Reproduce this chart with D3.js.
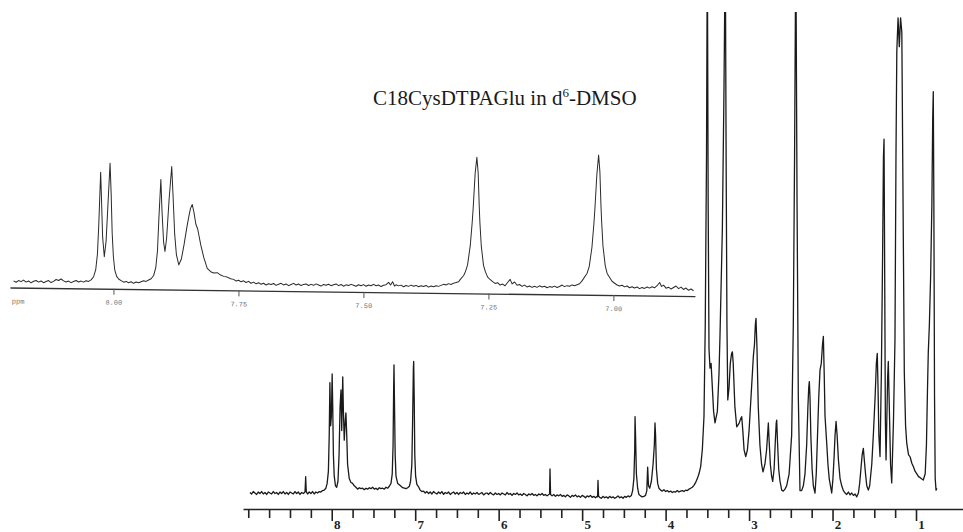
<!DOCTYPE html>
<html><head><meta charset="utf-8">
<script src="https://cdn.jsdelivr.net/npm/d3@7"></script>
<style>body{margin:0;background:#fff}svg{display:block}</style>
</head><body>
<svg id="c" width="963" height="532"></svg>
<script>
// ---------- data ----------
const titleMain = "C18CysDTPAGlu in d";
const titleSup = "6";
const titleTail = "-DMSO";

const mainTicks = [9,8.75,8.5,8.25,8,7.75,7.5,7.25,7,6.75,6.5,6.25,6,5.75,5.5,5.25,5,4.75,4.5,4.25,4,3.75,3.5,3.25,3,2.75,2.5,2.25,2,1.75,1.5,1.25,1];
const mainTickLabels = {8:"8",7:"7",6:"6",5:"5",4:"4",3:"3",2:"2",1:"1"};

const insetTicks = [8.00,7.75,7.50,7.25,7.00];
const insetTickLabels = ["8.00","7.75","7.50","7.25","7.00"];
const insetUnit = "ppm";

// [ppm, intensity] (arbitrary units, >100 = off scale)
const mainSpectrum = [
[8.98,0.1],[8.96,-0.2],[8.94,0.3],[8.92,0],[8.90,-0.3],[8.88,0.2],[8.86,-0.1],[8.84,0.3],[8.82,-0.2],[8.80,0.1],
[8.78,-0.3],[8.76,0.2],[8.74,0],[8.72,-0.2],[8.70,0.3],[8.68,-0.1],[8.66,0.1],[8.64,-0.3],[8.62,0.2],[8.60,-0.1],
[8.58,0.3],[8.56,-0.2],[8.54,0.1],[8.52,-0.3],[8.50,0.2],[8.48,0],[8.46,-0.2],[8.44,0.3],[8.42,-0.1],[8.40,0.2],
[8.38,-0.3],[8.36,0.1],[8.34,-0.1],[8.32,0.2],[8.312,3.4],[8.305,0.3],[8.29,-0.2],[8.27,0.2],[8.25,-0.1],[8.23,0.3],
[8.21,-0.2],[8.19,0.2],[8.17,0],[8.15,0.3],[8.13,0.2],[8.11,0.5],[8.09,0.6],[8.07,1.0],[8.055,2.0],[8.04,4.5],
[8.03,12],[8.022,23],[8.013,14],[8.004,16],[7.995,24.8],[7.988,18],[7.98,8],[7.97,3.5],[7.955,1.5],[7.94,1.2],
[7.925,2.5],[7.912,8],[7.90,18],[7.889,21.5],[7.88,13],[7.868,24.2],[7.86,17],[7.85,11],[7.838,15],[7.83,16.7],
[7.82,12],[7.81,6],[7.79,3],[7.77,2.2],[7.75,2],[7.73,1.5],[7.71,1.2],[7.69,0.8],[7.67,1.1],[7.65,0.9],
[7.63,1.0],[7.61,0.7],[7.59,1.0],[7.57,0.8],[7.55,1.1],[7.53,0.9],[7.51,1.2],[7.49,0.8],[7.47,1.0],[7.45,0.7],
[7.43,1.1],[7.41,0.9],[7.39,1.0],[7.37,0.8],[7.35,1.2],[7.33,1.0],[7.31,1.4],[7.29,2.0],[7.275,4],[7.265,10],
[7.258,22],[7.254,26.7],[7.249,20],[7.24,8],[7.23,3.5],[7.21,2],[7.19,1.7],[7.17,1.4],[7.15,1.1],[7.13,1.0],
[7.11,0.9],[7.09,1.1],[7.07,1.4],[7.055,2.5],[7.04,6],[7.03,16],[7.022,26],[7.018,27.4],[7.012,20],[7.005,8],
[6.995,3.5],[6.98,1.8],[6.96,1.3],[6.94,0.6],[6.92,0.3],
[6.90,0.4],[6.88,0.0],[6.86,0.3],[6.84,-0.1],[6.82,0.2],[6.80,-0.2],[6.78,0.3],[6.76,0.0],[6.74,-0.2],[6.72,0.2],
[6.70,-0.1],[6.68,0.3],[6.66,-0.3],[6.64,0.1],[6.62,-0.1],[6.60,0.2],[6.58,-0.3],[6.56,0.0],[6.54,0.2],[6.52,-0.2],
[6.50,0.1],[6.48,-0.3],[6.46,0.1],[6.44,-0.1],[6.42,0.2],[6.40,-0.3],[6.38,0.0],[6.36,-0.2],[6.34,0.2],[6.32,-0.3],
[6.30,0.0],[6.28,-0.2],[6.26,0.1],[6.24,-0.3],[6.22,-0.1],[6.20,0.1],[6.18,-0.4],[6.16,-0.1],[6.14,0.0],[6.12,-0.3],
[6.10,0.1],[6.08,-0.2],[6.06,-0.4],[6.04,0.0],[6.02,-0.3],[6.00,-0.1],[5.98,-0.4],[5.96,0.0],[5.94,-0.2],[5.92,-0.4],
[5.90,0.1],[5.88,-0.3],[5.86,-0.1],[5.84,-0.5],[5.82,-0.1],[5.80,-0.3],[5.78,0.0],[5.76,-0.4],[5.74,-0.2],[5.72,-0.5],
[5.70,-0.1],[5.68,-0.3],[5.66,-0.6],[5.64,-0.2],[5.62,-0.4],[5.60,-0.1],[5.58,-0.5],[5.56,-0.3],[5.54,-0.6],[5.52,-0.2],
[5.50,-0.4],[5.48,-0.1],[5.46,-0.5],[5.44,-0.3],[5.42,-0.6],[5.40,-0.3],[5.39,-0.2],[5.385,5.0],[5.378,-0.3],[5.36,-0.6],
[5.34,-0.3],[5.32,-0.7],[5.30,-0.4],[5.28,-0.6],[5.26,-0.3],[5.24,-0.7],[5.22,-0.5],[5.20,-0.8],[5.18,-0.4],[5.16,-0.6],
[5.14,-0.9],[5.12,-0.5],[5.10,-0.7],[5.08,-0.4],[5.06,-0.8],[5.04,-0.6],[5.02,-0.9],[5.00,-0.5],[4.98,-0.7],[4.96,-1.0],
[4.94,-0.6],[4.92,-0.8],[4.90,-0.5],[4.88,-0.9],[4.86,-0.7],[4.84,-1.0],[4.82,-0.7],[4.815,-0.8],[4.81,2.6],[4.803,-0.7],
[4.79,-0.9],[4.77,-1.1],[4.75,-0.7],[4.73,-1.0],[4.71,-0.8],[4.69,-1.1],[4.67,-0.7],[4.65,-1.0],[4.63,-0.8],[4.61,-1.1],
[4.59,-0.9],[4.57,-0.6],[4.55,-1.0],[4.53,-0.8],[4.51,-1.1],[4.49,-0.7],[4.47,-0.9],[4.45,-0.6],[4.43,-0.8],[4.41,-0.5],
[4.395,0.5],[4.38,3],[4.37,9],[4.366,15.9],[4.36,12],[4.35,4],[4.335,1],[4.32,-0.3],[4.30,-0.6],[4.28,-0.8],
[4.26,-0.7],[4.24,-0.5],[4.225,0.5],[4.215,5.4],[4.205,1.5],[4.19,1.0],[4.17,2.5],[4.15,6],[4.135,10],[4.127,14.6],
[4.12,12],[4.11,5],[4.095,2],[4.08,1.0],[4.06,0.6],[4.04,0.4],[4.02,0.7],[4.00,0.3],[3.98,0.5],[3.96,0.2],
[3.94,0.4],[3.92,0.1],[3.90,0.3],[3.88,0.2],[3.86,0.5],[3.84,0.2],[3.82,0.4],[3.80,0.5],[3.78,0.3],[3.76,0.6],
[3.74,0.5],[3.72,0.8],[3.70,1.0],[3.68,1.2],[3.66,1.6],[3.64,2.2],[3.62,3.0],[3.60,4.0],[3.58,5.5],[3.56,9],
[3.54,16],[3.525,35],[3.51,70],[3.50,115],[3.49,60],[3.48,30],[3.468,26],[3.455,27],[3.44,22],[3.425,17],
[3.408,14.6],[3.38,17],[3.36,25],[3.348,33],[3.32,55],[3.30,85],[3.285,115],[3.275,70],[3.265,35],[3.255,19.4],
[3.24,22],[3.225,27],[3.21,29],[3.20,29.4],[3.19,27],[3.17,18],[3.148,13.8],[3.12,14.5],[3.10,15.5],[3.088,15.9],
[3.075,13],[3.06,9],[3.04,7.6],[3.02,9],[3.00,13],[2.98,19],[2.96,25],[2.949,28.4],[2.935,31],[2.925,35],
[2.917,36.4],[2.905,30],[2.89,18],[2.87,10],[2.85,6],[2.833,4.4],[2.81,6],[2.79,9],[2.775,13],[2.769,14.6],
[2.76,11],[2.745,6],[2.73,3.5],[2.717,2.4],[2.70,5],[2.685,11],[2.675,14.5],[2.669,15.2],[2.66,11],[2.645,5],
[2.63,2.5],[2.609,0.6],[2.59,0.4],[2.57,0.8],[2.55,1.5],[2.52,4],[2.49,12],[2.47,35],[2.455,70],[2.44,115],
[2.425,60],[2.41,20],[2.39,0.5],[2.37,0.5],[2.35,1.5],[2.33,4],[2.31,10],[2.295,18],[2.285,22],[2.278,23.2],
[2.27,20],[2.26,12],[2.245,5],[2.23,1.5],[2.21,0],[2.195,4],[2.18,12],[2.165,20],[2.15,25.6],[2.135,27],
[2.12,31],[2.11,32.6],[2.10,25],[2.09,16],[2.07,10.4],[2.055,6],[2.04,3],[2.01,0],[1.995,3],[1.98,8],
[1.97,12],[1.958,14.9],[1.945,12],[1.93,7],[1.91,3],[1.89,1.5],[1.87,0.5],[1.85,0],[1.83,-0.3],[1.81,0.2],
[1.79,-0.4],[1.77,0],[1.75,-0.5],[1.73,-0.2],[1.71,-0.8],[1.69,0],[1.675,2],[1.66,5],[1.645,8],[1.631,9.3],
[1.62,7],[1.605,4],[1.59,1.5],[1.571,0.6],[1.555,1.5],[1.53,6],[1.51,12.5],[1.49,20],[1.475,27],[1.464,29.1],
[1.455,22],[1.445,12],[1.431,7.6],[1.415,25],[1.40,50],[1.39,70],[1.383,73.7],[1.375,45],[1.367,15],[1.359,6.9],
[1.35,15],[1.34,24],[1.332,27.4],[1.32,18],[1.305,6],[1.291,2.1],[1.27,15],[1.252,31.9],[1.24,70],[1.23,92],
[1.215,99],[1.20,93],[1.185,99],[1.17,96],[1.155,60],[1.14,25],[1.125,14],[1.111,10.4],[1.09,8],[1.07,7.5],
[1.05,6.2],[1.032,5.5],[1.01,4.5],[0.99,4.0],[0.97,3.4],[0.95,3.2],[0.93,2.9],[0.913,2.7],[0.89,4],[0.875,10],
[0.862,22],[0.853,29.2],[0.84,35],[0.825,45],[0.81,60],[0.80,78],[0.793,83.6],[0.786,60],[0.778,20],[0.77,3],
[0.76,0.6],[0.75,1.0]
];

// [ppm, intensity] read from the expanded aromatic region (inset)
const insetSpectrum = [
[8.200,0.5],[8.195,-0.5],[8.190,0.8],[8.185,0.0],[8.180,1.2],[8.175,-0.3],[8.170,0.6],[8.165,-0.8],[8.160,0.4],[8.155,1.0],
[8.150,-0.2],[8.145,0.7],[8.140,-0.6],[8.135,0.3],[8.130,1.1],[8.125,-0.4],[8.120,0.5],[8.115,2.0],[8.110,1.2],[8.105,2.4],
[8.100,1.0],[8.095,0.2],[8.090,0.9],[8.085,-0.3],[8.080,0.6],[8.075,1.4],[8.070,0.3],[8.065,1.0],[8.060,0.2],[8.055,1.3],
[8.050,0.8],[8.045,2.0],[8.040,4.5],[8.036,10],[8.033,22],[8.031,45],[8.0286,85],[8.026,62],[8.023,35],[8.0192,20],
[8.016,32],[8.013,62],[8.010,92],[8.007,68],[8.004,38],[8.001,20],[7.998,10],[7.994,5],[7.990,3],[7.985,1.8],
[7.980,0.6],[7.975,1.2],[7.970,0.2],[7.965,1.0],[7.960,-0.2],[7.955,0.8],[7.950,0.3],[7.945,1.1],[7.940,1.8],[7.935,1.4],
[7.930,2.5],[7.925,3.5],[7.920,6],[7.916,12],[7.913,25],[7.911,50],[7.908,80],[7.905,56],[7.901,32],[7.898,24.6],
[7.895,35],[7.891,65],[7.8866,90],[7.883,66],[7.879,38],[7.875,22],[7.870,14.4],[7.865,19],[7.860,30],[7.855,43],
[7.851,52],[7.848,58],[7.8446,61],[7.841,55],[7.837,46],[7.833,42],[7.8266,30],[7.820,20],[7.813,12],[7.806,9.5],
[7.800,8.5],[7.793,8.8],[7.786,7],[7.780,6],[7.773,5.5],[7.766,4.2],[7.760,3.8],[7.755,2.5],[7.750,3.2],[7.745,2.0],
[7.740,2.8],[7.735,1.5],[7.730,2.4],[7.725,1.0],[7.720,1.9],[7.715,0.6],[7.710,1.5],[7.705,0.3],[7.700,1.1],[7.695,-0.2],
[7.690,0.8],[7.685,0.2],[7.680,1.0],[7.675,-0.4],[7.670,0.5],[7.665,1.2],[7.660,0.0],[7.655,0.8],[7.650,-0.5],[7.645,0.4],
[7.640,1.3],[7.635,0.1],[7.630,0.9],[7.625,-0.3],[7.620,0.6],[7.615,1.0],[7.610,-0.2],[7.605,0.7],[7.600,0.0],[7.595,1.1],
[7.590,0.3],[7.585,-0.5],[7.580,0.8],[7.575,0.2],[7.570,1.0],[7.565,-0.1],[7.560,0.6],[7.555,1.3],[7.550,0.0],[7.545,0.9],
[7.540,-0.4],[7.535,0.7],[7.530,0.2],[7.525,1.1],[7.520,0.4],[7.515,-0.3],[7.510,0.9],[7.505,0.1],[7.500,1.0],[7.495,-0.2],
[7.490,0.8],[7.485,0.2],[7.480,1.3],[7.475,0.3],[7.470,0.9],[7.465,-0.3],[7.460,0.7],[7.455,1.2],[7.450,3.0],[7.446,1.0],
[7.442,3.5],[7.438,0.2],[7.435,1.2],[7.430,0.4],[7.425,1.0],[7.420,-0.2],[7.415,0.8],[7.410,0.1],[7.405,1.1],[7.400,0.3],
[7.395,0.9],[7.390,-0.1],[7.385,0.7],[7.380,0.2],[7.375,1.0],[7.370,-0.3],[7.365,0.6],[7.360,0.1],[7.355,0.9],[7.350,0.4],
[7.345,1.2],[7.340,2.0],[7.335,1.5],[7.330,2.6],[7.325,2.0],[7.320,3.0],[7.315,3.5],[7.310,4.2],[7.3066,6],[7.300,9],
[7.2966,12],[7.2926,17],[7.2876,32],[7.2843,50],[7.2826,62],[7.2796,88],[7.2766,100],[7.2736,88],[7.2706,62],[7.2689,50],
[7.2656,32],[7.2606,17],[7.2566,12],[7.252,8],[7.2466,6],[7.242,4.5],[7.237,3.2],[7.232,3.8],[7.227,2.0],[7.222,2.8],
[7.217,1.5],[7.212,4],[7.207,6.5],[7.203,3],[7.198,4.5],[7.193,2.0],[7.188,2.6],[7.183,1.2],[7.178,2.2],[7.173,0.8],
[7.168,1.6],[7.163,0.5],[7.158,1.4],[7.153,0.6],[7.148,1.8],[7.143,0.9],[7.138,1.5],[7.133,0.4],[7.128,1.3],[7.123,0.8],
[7.118,1.7],[7.113,0.7],[7.108,1.5],[7.103,2.6],[7.098,1.4],[7.093,2.2],[7.088,1.8],[7.083,2.8],[7.078,2.2],[7.073,3.0],
[7.068,3.8],[7.0632,6],[7.0532,12],[7.0492,17],[7.0442,32],[7.0409,50],[7.0392,62],[7.0362,88],[7.0332,103],[7.0302,90],
[7.0272,64],[7.0255,52],[7.0222,33],[7.0172,18],[7.0132,12],[7.0032,6],[6.998,4.5],[6.993,3.2],[6.988,2.4],[6.983,3.0],
[6.978,1.8],[6.973,2.5],[6.968,1.2],[6.963,2.0],[6.958,1.0],[6.953,1.8],[6.948,0.6],[6.943,1.5],[6.938,0.8],[6.933,1.9],
[6.928,1.1],[6.923,2.2],[6.918,1.4],[6.913,3.0],[6.908,5.5],[6.904,2.5],[6.900,3.5],[6.895,1.2],[6.890,2.0],[6.885,0.6],
[6.880,1.8],[6.875,3.0],[6.870,1.0],[6.865,2.2],[6.860,0.4],[6.855,1.5],[6.850,-0.2],[6.845,0.8],[6.840,-0.5]
];

// ---------- drawing ----------
const svg = d3.select("#c");
const W = 963, H = 532;
svg.append("rect").attr("width", W).attr("height", H).attr("fill", "#fff");

// main spectrum
const x = d3.scaleLinear().domain([9.063, 0.437]).range([243, 963]);
const y = d3.scaleLinear().domain([0, 100]).range([493, 13]);

svg.append("defs").append("clipPath").attr("id", "clipMain")
  .append("rect").attr("x", 0).attr("y", 12).attr("width", W).attr("height", H - 12);

const mainLine = d3.line().x(d => x(d[0])).y(d => y(d[1]));
svg.append("path")
  .attr("d", mainLine(mainSpectrum))
  .attr("clip-path", "url(#clipMain)")
  .attr("fill", "none")
  .attr("stroke", "#1a1a1a")
  .attr("stroke-width", 1.3)
  .attr("stroke-linejoin", "round");

const mainAxis = d3.axisBottom(x)
  .tickValues(mainTicks)
  .tickSize(9)
  .tickSizeOuter(0)
  .tickFormat(d => mainTickLabels[d] || "");
const gAx = svg.append("g").attr("transform", "translate(0,509)").call(mainAxis);
gAx.select(".domain").attr("stroke", "#222").attr("stroke-width", 1.7);
gAx.selectAll(".tick line").attr("stroke", "#222").attr("stroke-width", 1.6)
  .attr("y2", d => mainTickLabels[d] ? 12 : 9);
gAx.selectAll(".tick text")
  .attr("y", 19.5).attr("dy", 0).attr("dx", 5)
  .attr("fill", "#222")
  .style("font-family", "'Liberation Serif','Times New Roman',serif")
  .style("font-weight", "bold")
  .style("font-size", "13px");

// inset (expanded aromatic region), slightly rotated like the scan
const gi = svg.append("g").attr("transform", "rotate(0.72,10,287.5)");
const xi = d3.scaleLinear().domain([8.207, 6.837]).range([10, 695]);
const yi = d3.scaleLinear().domain([0, 100]).range([281.5, 151.5]);
const insetLine = d3.line().x(d => xi(d[0])).y(d => yi(d[1]));
gi.append("path")
  .attr("d", insetLine(insetSpectrum))
  .attr("fill", "none")
  .attr("stroke", "#2a2a2a")
  .attr("stroke-width", 1)
  .attr("stroke-linejoin", "round");

const insetAxis = d3.axisBottom(xi)
  .tickValues(insetTicks)
  .tickSize(6)
  .tickSizeOuter(0)
  .tickFormat((d, i) => insetTickLabels[i]);
const gia = gi.append("g").attr("transform", "translate(0,287.5)").call(insetAxis);
gia.select(".domain").attr("stroke", "#333").attr("stroke-width", 1.3);
gia.selectAll(".tick line").attr("stroke", "#555").attr("stroke-width", 1);
gia.selectAll(".tick text")
  .attr("y", 16).attr("dy", 0)
  .attr("fill", "#777")
  .style("font-family", "'Liberation Mono','DejaVu Sans Mono',monospace")
  .style("font-size", "7px");
gi.append("text")
  .attr("x", xi(8.203)).attr("y", 287.5 + 16)
  .attr("fill", "#777")
  .style("font-family", "'Liberation Mono','DejaVu Sans Mono',monospace")
  .style("font-size", "7px")
  .text(insetUnit);

// title
const t = svg.append("text")
  .attr("x", 373).attr("y", 105)
  .attr("fill", "#1a1a1a")
  .style("font-family", "'Liberation Serif','Times New Roman',serif")
  .style("font-size", "21px");
t.append("tspan").text(titleMain);
t.append("tspan").attr("dy", -8).style("font-size", "13px").text(titleSup);
t.append("tspan").attr("dy", 8).text(titleTail);
</script>
</body></html>
